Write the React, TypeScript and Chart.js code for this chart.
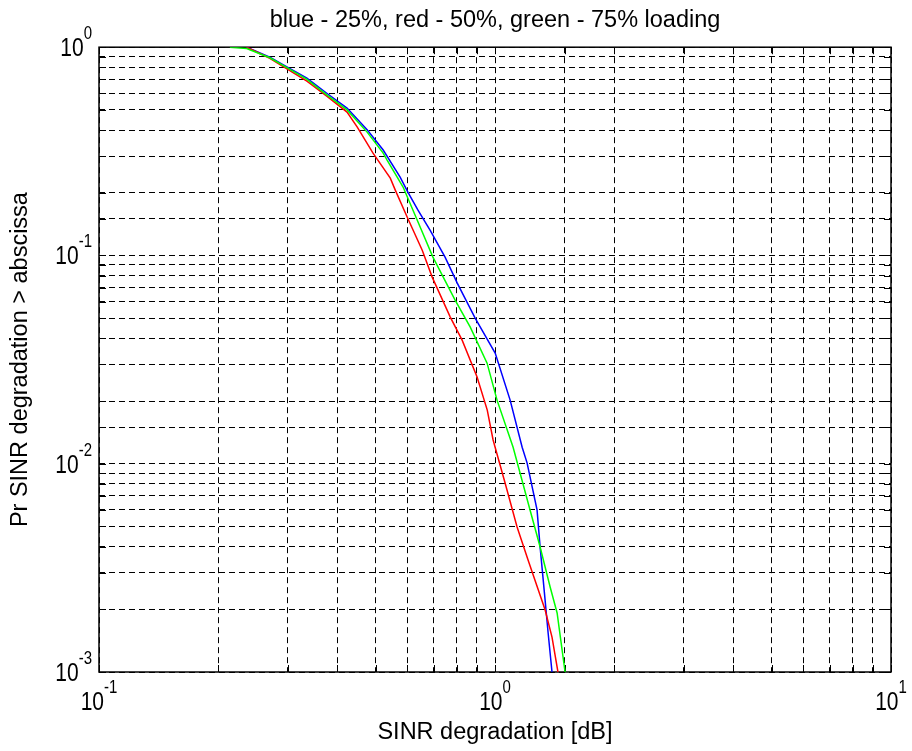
import React, { useEffect, useRef } from 'react';
import { Chart, registerables } from 'chart.js';

Chart.register(...registerables);

// ---- text ----
const TITLE = 'blue - 25%, red - 50%, green - 75% loading';
const X_LABEL = 'SINR degradation [dB]';
const Y_LABEL = 'Pr SINR degradation > abscissa';

// ---- axes ----
const X_MIN = 0.1;
const X_MAX = 10;
const Y_MIN = 0.001;
const Y_MAX = 1;
const X_TICK_EXPONENTS = [-1, 0, 1];
const Y_TICK_EXPONENTS = [-3, -2, -1, 0];

// ---- series ----
const blueX = [0.236, 0.27, 0.299, 0.335, 0.376, 0.423, 0.476, 0.522, 0.576, 0.603, 0.639, 0.686, 0.748, 0.803, 0.891, 1.001, 1.092, 1.171, 1.205, 1.277, 1.3, 1.338, 1.362, 1.393];
const blueY = [1, 0.895, 0.802, 0.71, 0.601, 0.51, 0.4, 0.321, 0.238, 0.201, 0.165, 0.132, 0.0982, 0.0736, 0.05, 0.034, 0.0202, 0.012, 0.0101, 0.006, 0.00398, 0.00222, 0.00154, 0.001];

const redX = [0.236, 0.27, 0.299, 0.335, 0.376, 0.423, 0.449, 0.492, 0.544, 0.56, 0.6, 0.655, 0.694, 0.771, 0.826, 0.901, 0.956, 0.989, 1.06, 1.137, 1.212, 1.338, 1.393, 1.442];
const redY = [1, 0.885, 0.784, 0.687, 0.582, 0.488, 0.413, 0.31, 0.235, 0.206, 0.153, 0.106, 0.0787, 0.0506, 0.0392, 0.0261, 0.0181, 0.013, 0.0081, 0.00497, 0.00345, 0.00199, 0.00147, 0.001];

const greenX = [0.214, 0.236, 0.27, 0.299, 0.335, 0.376, 0.423, 0.476, 0.522, 0.534, 0.586, 0.636, 0.697, 0.793, 0.866, 0.955, 1.012, 1.111, 1.226, 1.3, 1.378, 1.435, 1.503];
const greenY = [1, 0.985, 0.89, 0.795, 0.7, 0.59, 0.5, 0.39, 0.31, 0.287, 0.213, 0.148, 0.0982, 0.061, 0.0453, 0.0304, 0.0202, 0.012, 0.006, 0.00398, 0.00256, 0.00192, 0.001];

const FONT = '"Liberation Sans", Arial, sans-serif';
const TICK_BASE_SIZE = 21;
const TICK_EXP_SIZE = 15;
const TICK_STRETCH = 1.22;
const TICK_LEN = 7;

const pts = (xs: number[], ys: number[]) => xs.map((x, i) => ({ x, y: ys[i] }));

function drawPower(ctx: CanvasRenderingContext2D, exp: number, x: number, baseline: number, align: 'center' | 'right') {
  const es = String(exp);
  ctx.font = `${TICK_BASE_SIZE}px ${FONT}`;
  const wb = ctx.measureText('10').width;
  ctx.font = `${TICK_EXP_SIZE}px ${FONT}`;
  const we = ctx.measureText(es).width;
  const total = wb + we;
  const left = align === 'center' ? x - total / 2 : x - total;
  ctx.save();
  ctx.translate(left, baseline);
  ctx.scale(1, TICK_STRETCH);
  ctx.fillStyle = '#000';
  ctx.textBaseline = 'alphabetic';
  ctx.textAlign = 'left';
  ctx.font = `${TICK_BASE_SIZE}px ${FONT}`;
  ctx.fillText('10', 0, 0);
  ctx.font = `${TICK_EXP_SIZE}px ${FONT}`;
  ctx.fillText(es, wb, -14);
  ctx.restore();
}

const matlabAxes = {
  id: 'matlabAxes',
  beforeDatasetsDraw(chart: any) {
    const { ctx, chartArea: a, scales } = chart;
    const xs = scales.x;
    const ys = scales.y;
    ctx.save();
    ctx.strokeStyle = '#000';
    ctx.lineWidth = 1;
    ctx.setLineDash([]);
    ctx.beginPath();
    xs.ticks.forEach((t: any) => {
      const px = Math.round(xs.getPixelForValue(t.value)) + 0.5;
      ctx.moveTo(px, a.bottom);
      ctx.lineTo(px, a.bottom - TICK_LEN);
      ctx.moveTo(px, a.top);
      ctx.lineTo(px, a.top + TICK_LEN);
    });
    ys.ticks.forEach((t: any) => {
      const py = Math.round(ys.getPixelForValue(t.value)) + 0.5;
      ctx.moveTo(a.left, py);
      ctx.lineTo(a.left + TICK_LEN, py);
      ctx.moveTo(a.right, py);
      ctx.lineTo(a.right - TICK_LEN, py);
    });
    ctx.stroke();
    ctx.lineWidth = 1.5;
    ctx.strokeRect(a.left, a.top, a.right - a.left, a.bottom - a.top);
    ctx.restore();
  },
  afterDraw(chart: any) {
    const { ctx, chartArea: a, scales } = chart;
    const xs = scales.x;
    const ys = scales.y;
    X_TICK_EXPONENTS.forEach((e) => {
      const px = xs.getPixelForValue(Math.pow(10, e));
      drawPower(ctx, e, px, a.bottom + 38, 'center');
    });
    Y_TICK_EXPONENTS.forEach((e) => {
      const py = ys.getPixelForValue(Math.pow(10, e));
      drawPower(ctx, e, a.left - 7, py + 9, 'right');
    });
  },
};

export default function App() {
  const ref = useRef<HTMLCanvasElement | null>(null);

  useEffect(() => {
    if (!ref.current) return;
    const chart = new Chart(ref.current, {
      type: 'line',
      data: {
        datasets: [
          { label: 'blue - 25%', data: pts(blueX, blueY), borderColor: '#0000ff', backgroundColor: '#0000ff', borderWidth: 1.5, pointRadius: 0, tension: 0, fill: false, order: 2 },
          { label: 'red - 50%', data: pts(redX, redY), borderColor: '#ff0000', backgroundColor: '#ff0000', borderWidth: 1.5, pointRadius: 0, tension: 0, fill: false, order: 1 },
          { label: 'green - 75%', data: pts(greenX, greenY), borderColor: '#00ff00', backgroundColor: '#00ff00', borderWidth: 1.5, pointRadius: 0, tension: 0, fill: false, order: 0 },
        ],
      },
      options: {
        responsive: false,
        maintainAspectRatio: false,
        devicePixelRatio: 1,
        animation: false,
        layout: { padding: { left: 0, right: 21, top: 0, bottom: 0 } },
        plugins: {
          legend: { display: false },
          tooltip: { enabled: false },
          title: {
            display: true,
            text: TITLE,
            fullSize: false,
            color: '#000',
            font: { family: FONT, size: 23.5, weight: 'normal' },
            padding: { top: 6, bottom: 13 },
          },
        },
        scales: {
          x: {
            type: 'logarithmic',
            min: X_MIN,
            max: X_MAX,
            position: 'bottom',
            ticks: { display: false },
            grid: { color: '#000', lineWidth: 1, drawTicks: false },
            border: { display: false, dash: [6, 4], color: '#000' },
            title: { display: true, text: X_LABEL, color: '#000', font: { family: FONT, size: 23.5 }, padding: { top: 0, bottom: 4 } },
            afterFit: (s: any) => { s.height = 79; },
          },
          y: {
            type: 'logarithmic',
            min: Y_MIN,
            max: Y_MAX,
            position: 'left',
            ticks: { display: false },
            grid: { color: '#000', lineWidth: 1, drawTicks: false },
            border: { display: false, dash: [6, 4], color: '#000' },
            title: { display: true, text: Y_LABEL, color: '#000', font: { family: FONT, size: 23.5 }, padding: { top: 6, bottom: 0 } },
            afterFit: (s: any) => { s.width = 99; },
          },
        },
      },
      plugins: [matlabAxes],
    } as any);
    return () => chart.destroy();
  }, []);

  return (
    <div style={{ position: 'absolute', left: 0, top: 0, width: 912, height: 751, background: '#fff' }}>
      <canvas ref={ref} width={912} height={751} style={{ display: 'block' }} />
    </div>
  );
}
